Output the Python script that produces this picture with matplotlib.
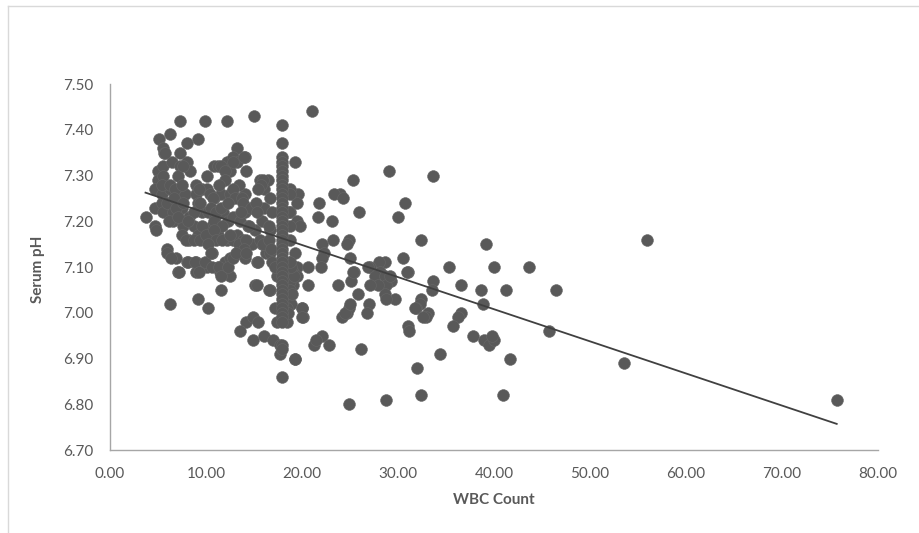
import numpy as np
import matplotlib.pyplot as plt
from matplotlib.lines import Line2D

plt.rcParams['font.family'] = ['Lato', 'DejaVu Sans']

# left cluster (WBC < 21)
wbc_left = [7.3, 9.9, 12.15, 15.0, 21.0, 6.25, 5.1, 9.2, 8.05, 5.55, 7.3, 13.2, 14.06, 5.6,
            5.0, 5.55, 6.5, 7.3, 8.0, 8.3, 10.1, 10.8, 11.3, 12.15, 12.5, 12.8, 13.2, 14.2, 15.6, 16.5,
            16.0, 19.3, 19.1, 19.6, 5.0, 5.55, 7.1, 4.7, 5.4, 6.25, 6.95, 7.8, 9.0, 9.55, 10.1, 10.8,
            11.6, 12.5, 13.4, 14.06, 14.9, 16.0, 16.7, 14.06,
            3.7, 4.7, 5.4, 4.7, 4.8, 5.55, 6.6, 7.5, 8.2, 9.2, 9.55, 10.2, 10.9, 11.8, 12.3, 12.8,
            13.5, 14.4, 15.1, 15.8, 16.7, 6.6, 7.6, 8.7, 9.9, 10.6, 18.75, 19.45, 18.8, 19.45, 19.8,
            7.5, 8.2, 9.2, 10.4, 11.3, 12.15, 12.8, 13.2, 13.9, 14.8, 15.8, 16.3, 18.75, 19.3, 19.45,
            17.4, 19.1, 5.9,
            5.9, 6.9, 8.0, 9.0, 9.0, 10.1, 10.6, 11.3, 11.5, 12.5, 12.0, 12.5, 13.2, 14.1, 15.3, 15.1,
            16.7, 18.75, 19.45, 19.1, 19.97, 20.1, 7.1, 6.2, 9.2, 10.2, 11.6,
            14.2, 14.9, 15.4, 13.5, 14.9, 16.0, 17.0, 17.7, 17.7, 19.3, 17.9, 17.4, 18.4, 16.6, 16.7,
            16.6, 16.9, 16.9, 17.2, 17.2, 18.4, 18.9, 18.4, 18.5, 18.7, 18.8, 19.0, 19.2, 18.9,
            5.7, 7.6, 11.6, 12.0, 12.8, 14.0, 12.0, 15.9, 15.7, 11.4, 13.4, 5.4, 6.2, 6.8, 7.5, 9.0,
            9.3, 10.4, 10.7, 12.8, 13.0, 13.7, 15.4, 5.9, 6.7, 6.9, 7.6, 8.7, 9.4, 10.5, 11.0, 11.6,
            12.3, 13.9, 14.7, 15.2, 15.3, 6.1, 7.1, 8.1, 9.6, 10.8, 11.7, 13.6, 14.5, 7.9, 8.7, 9.4,
            10.0, 10.8, 11.0, 11.7, 12.5, 13.4, 14.2, 14.0, 15.6, 15.9, 16.6, 10.2, 6.4, 8.1, 8.9,
            9.3, 9.9, 10.5, 10.6, 11.4, 11.6, 12.3, 12.8, 13.1, 14.2, 7.2, 15.4, 16.8, 18.8, 18.6,
            18.8, 18.8, 15.3]
ph_left = [7.42, 7.42, 7.42, 7.43, 7.44, 7.39, 7.38, 7.38, 7.37, 7.36, 7.35, 7.36, 7.34, 7.35,
           7.31, 7.32, 7.33, 7.32, 7.33, 7.31, 7.30, 7.32, 7.32, 7.33, 7.31, 7.34, 7.33, 7.31, 7.29, 7.29,
           7.27, 7.33, 7.26, 7.26, 7.29, 7.30, 7.30, 7.27, 7.26, 7.27, 7.26, 7.26, 7.26, 7.27, 7.27, 7.25,
           7.26, 7.26, 7.25, 7.26, 7.23, 7.23, 7.25, 7.22,
           7.21, 7.23, 7.24, 7.19, 7.18, 7.22, 7.22, 7.23, 7.21, 7.24, 7.22, 7.22, 7.21, 7.22, 7.20, 7.21,
           7.20, 7.19, 7.18, 7.20, 7.18, 7.20, 7.19, 7.19, 7.18, 7.19, 7.27, 7.24, 7.22, 7.20, 7.19,
           7.17, 7.16, 7.17, 7.16, 7.17, 7.16, 7.16, 7.17, 7.16, 7.15, 7.15, 7.13, 7.16, 7.13, 7.10,
           7.08, 7.09, 7.14,
           7.13, 7.12, 7.11, 7.11, 7.09, 7.10, 7.13, 7.10, 7.09, 7.08, 7.11, 7.12, 7.13, 7.12, 7.11, 7.06,
           7.05, 7.11, 7.08, 7.06, 7.01, 6.99, 7.09, 7.02, 7.03, 7.01, 7.05,
           6.98, 6.99, 6.98, 6.96, 6.94, 6.95, 6.94, 6.93, 6.91, 6.90, 6.86, 6.98, 6.98, 7.05, 7.13,
           7.19, 7.22, 7.11, 7.10, 7.01, 7.03, 7.02, 7.01, 7.00, 7.07, 7.05, 7.04, 7.08, 7.10,
           7.35, 7.32, 7.32, 7.31, 7.33, 7.34, 7.29, 7.29, 7.28, 7.28, 7.28, 7.28, 7.28, 7.27, 7.28, 7.28,
           7.27, 7.26, 7.25, 7.27, 7.25, 7.25, 7.27, 7.24, 7.25, 7.23, 7.24, 7.22, 7.24, 7.23, 7.22, 7.23,
           7.24, 7.24, 7.23, 7.24, 7.22, 7.20, 7.21, 7.20, 7.19, 7.20, 7.19, 7.22, 7.19, 7.16, 7.16, 7.16,
           7.17, 7.18, 7.16, 7.16, 7.17, 7.15, 7.16, 7.14, 7.16, 7.15, 7.16, 7.15, 7.12, 7.11, 7.11,
           7.09, 7.11, 7.13, 7.10, 7.10, 7.08, 7.10, 7.12, 7.13, 7.13, 7.09, 7.11, 7.14, 7.26, 7.22,
           7.19, 7.11, 7.06]

# vertical column of values at WBC ~ 17.9
wbc_col = 17.9
ph_col = [7.41, 7.37, 7.34, 7.33, 7.32, 7.31, 7.30, 7.29, 7.28, 7.27, 7.26, 7.25, 7.24, 7.23,
          7.22, 7.21, 7.20, 7.19, 7.18, 7.17, 7.16, 7.15, 7.14, 7.13, 7.12, 7.11, 7.10, 7.09,
          7.08, 7.07, 7.06, 7.05, 7.04, 7.03, 7.02, 7.01, 7.00, 6.99, 6.98, 6.93, 6.92]

# right part (WBC > 20)
wbc_right = [75.7, 55.9, 53.5, 46.5, 45.7, 43.6, 41.7, 41.2, 40.9, 40.0, 39.2, 38.9, 38.6, 39.0,
             39.5, 40.0, 39.8, 37.8, 36.6, 36.3, 35.7, 36.6, 35.3, 34.4, 33.6, 33.6, 33.5, 33.1, 32.9,
             32.4, 32.4, 32.3, 31.9, 32.4, 32.0, 31.0, 31.1, 30.7, 31.0, 30.5, 30.0, 29.1, 28.8,
             28.6, 28.0, 28.1, 27.1, 27.6, 28.6, 29.3, 29.7, 28.8, 28.6, 28.7, 27.9, 27.0, 26.8, 27.1,
             29.2, 26.1, 25.9, 25.3, 25.8, 25.0, 25.4, 25.1, 24.9, 24.7, 24.2, 24.9, 24.9, 24.7, 23.8,
             24.0, 23.3, 24.3, 21.8, 21.7, 23.1, 23.2, 22.1, 22.3, 22.1, 22.0, 20.6, 20.6, 21.2, 22.1,
             22.8, 21.5, 20.0, 20.0, 19.3, 24.5, 25.0, 25.3, 26.9, 31.8, 32.6, 30.9]
ph_right = [6.81, 7.16, 6.89, 7.05, 6.96, 7.10, 6.90, 7.05, 6.82, 7.10, 7.15, 7.02, 7.05, 6.94,
            6.93, 6.94, 6.95, 6.95, 7.00, 6.99, 6.97, 7.06, 7.10, 6.91, 7.30, 7.07, 7.05, 7.00, 6.99,
            7.16, 7.03, 7.02, 7.01, 6.82, 6.88, 6.97, 6.96, 7.24, 7.09, 7.12, 7.21, 7.31, 6.81,
            7.11, 7.11, 7.09, 7.10, 7.08, 7.08, 7.07, 7.03, 7.06, 7.04, 7.03, 7.06, 7.02, 7.00, 7.06,
            7.08, 6.92, 7.22, 7.29, 7.04, 7.12, 7.09, 7.07, 7.01, 7.00, 6.99, 6.80, 7.16, 7.15, 7.06,
            7.26, 7.26, 7.25, 7.24, 7.21, 7.20, 7.16, 7.15, 7.13, 7.12, 7.10, 7.06, 7.10, 6.93, 6.95,
            6.93, 6.94, 7.01, 6.99, 6.90, 7.00, 7.02, 7.09, 7.10, 7.01, 6.99, 7.09]

# Excel linear trendline (slope, intercept)
trend_slope = -0.00702
trend_intercept = 7.2885

wbc = np.array(wbc_left + [wbc_col] * len(ph_col) + wbc_right)
ph = np.array(ph_left + ph_col + ph_right)

fig = plt.figure(figsize=(9.19, 5.33), dpi=100)
ax = fig.add_axes([110 / 919, 1 - 450 / 533, 768 / 919, 366 / 533])

ax.scatter(wbc, ph, s=72, color='#595959', edgecolors='#666666', linewidths=0.4, zorder=3)

tx = np.array([wbc.min(), wbc.max()])
ax.plot(tx, trend_intercept + trend_slope * tx, color='#404040', lw=1.3, zorder=4)

ax.set_xlim(0, 80)
ax.set_ylim(6.70, 7.50)
ax.set_xticks(np.arange(0, 81, 10))
ax.set_yticks(np.arange(6.70, 7.51, 0.10))
ax.set_xticklabels(['%.2f' % v for v in np.arange(0, 81, 10)])
ax.set_yticklabels(['%.2f' % v for v in np.arange(6.70, 7.51, 0.10)])
ax.tick_params(length=0, labelsize=11, labelcolor='#595959', pad=12)

for s in ['top', 'right']:
    ax.spines[s].set_visible(False)
for s in ['left', 'bottom']:
    ax.spines[s].set_color('#a6a6a6')
    ax.spines[s].set_linewidth(1)

fig.text(494 / 919, 1 - 500 / 533, 'WBC Count', ha='center', va='center',
         fontsize=11, fontweight='bold', color='#595959')
fig.text(38 / 919, 1 - 269 / 533, 'Serum pH', ha='center', va='center', rotation=90,
         fontsize=11, fontweight='bold', color='#595959')

# light frame round the chart area
fig.add_artist(Line2D([8 / 919, 8 / 919], [0, 1 - 6 / 533], transform=fig.transFigure,
                      color='#d9d9d9', lw=1))
fig.add_artist(Line2D([8 / 919, 1], [1 - 6 / 533, 1 - 6 / 533], transform=fig.transFigure,
                      color='#d9d9d9', lw=1))

fig.savefig('out.png', dpi=100, facecolor='white')
